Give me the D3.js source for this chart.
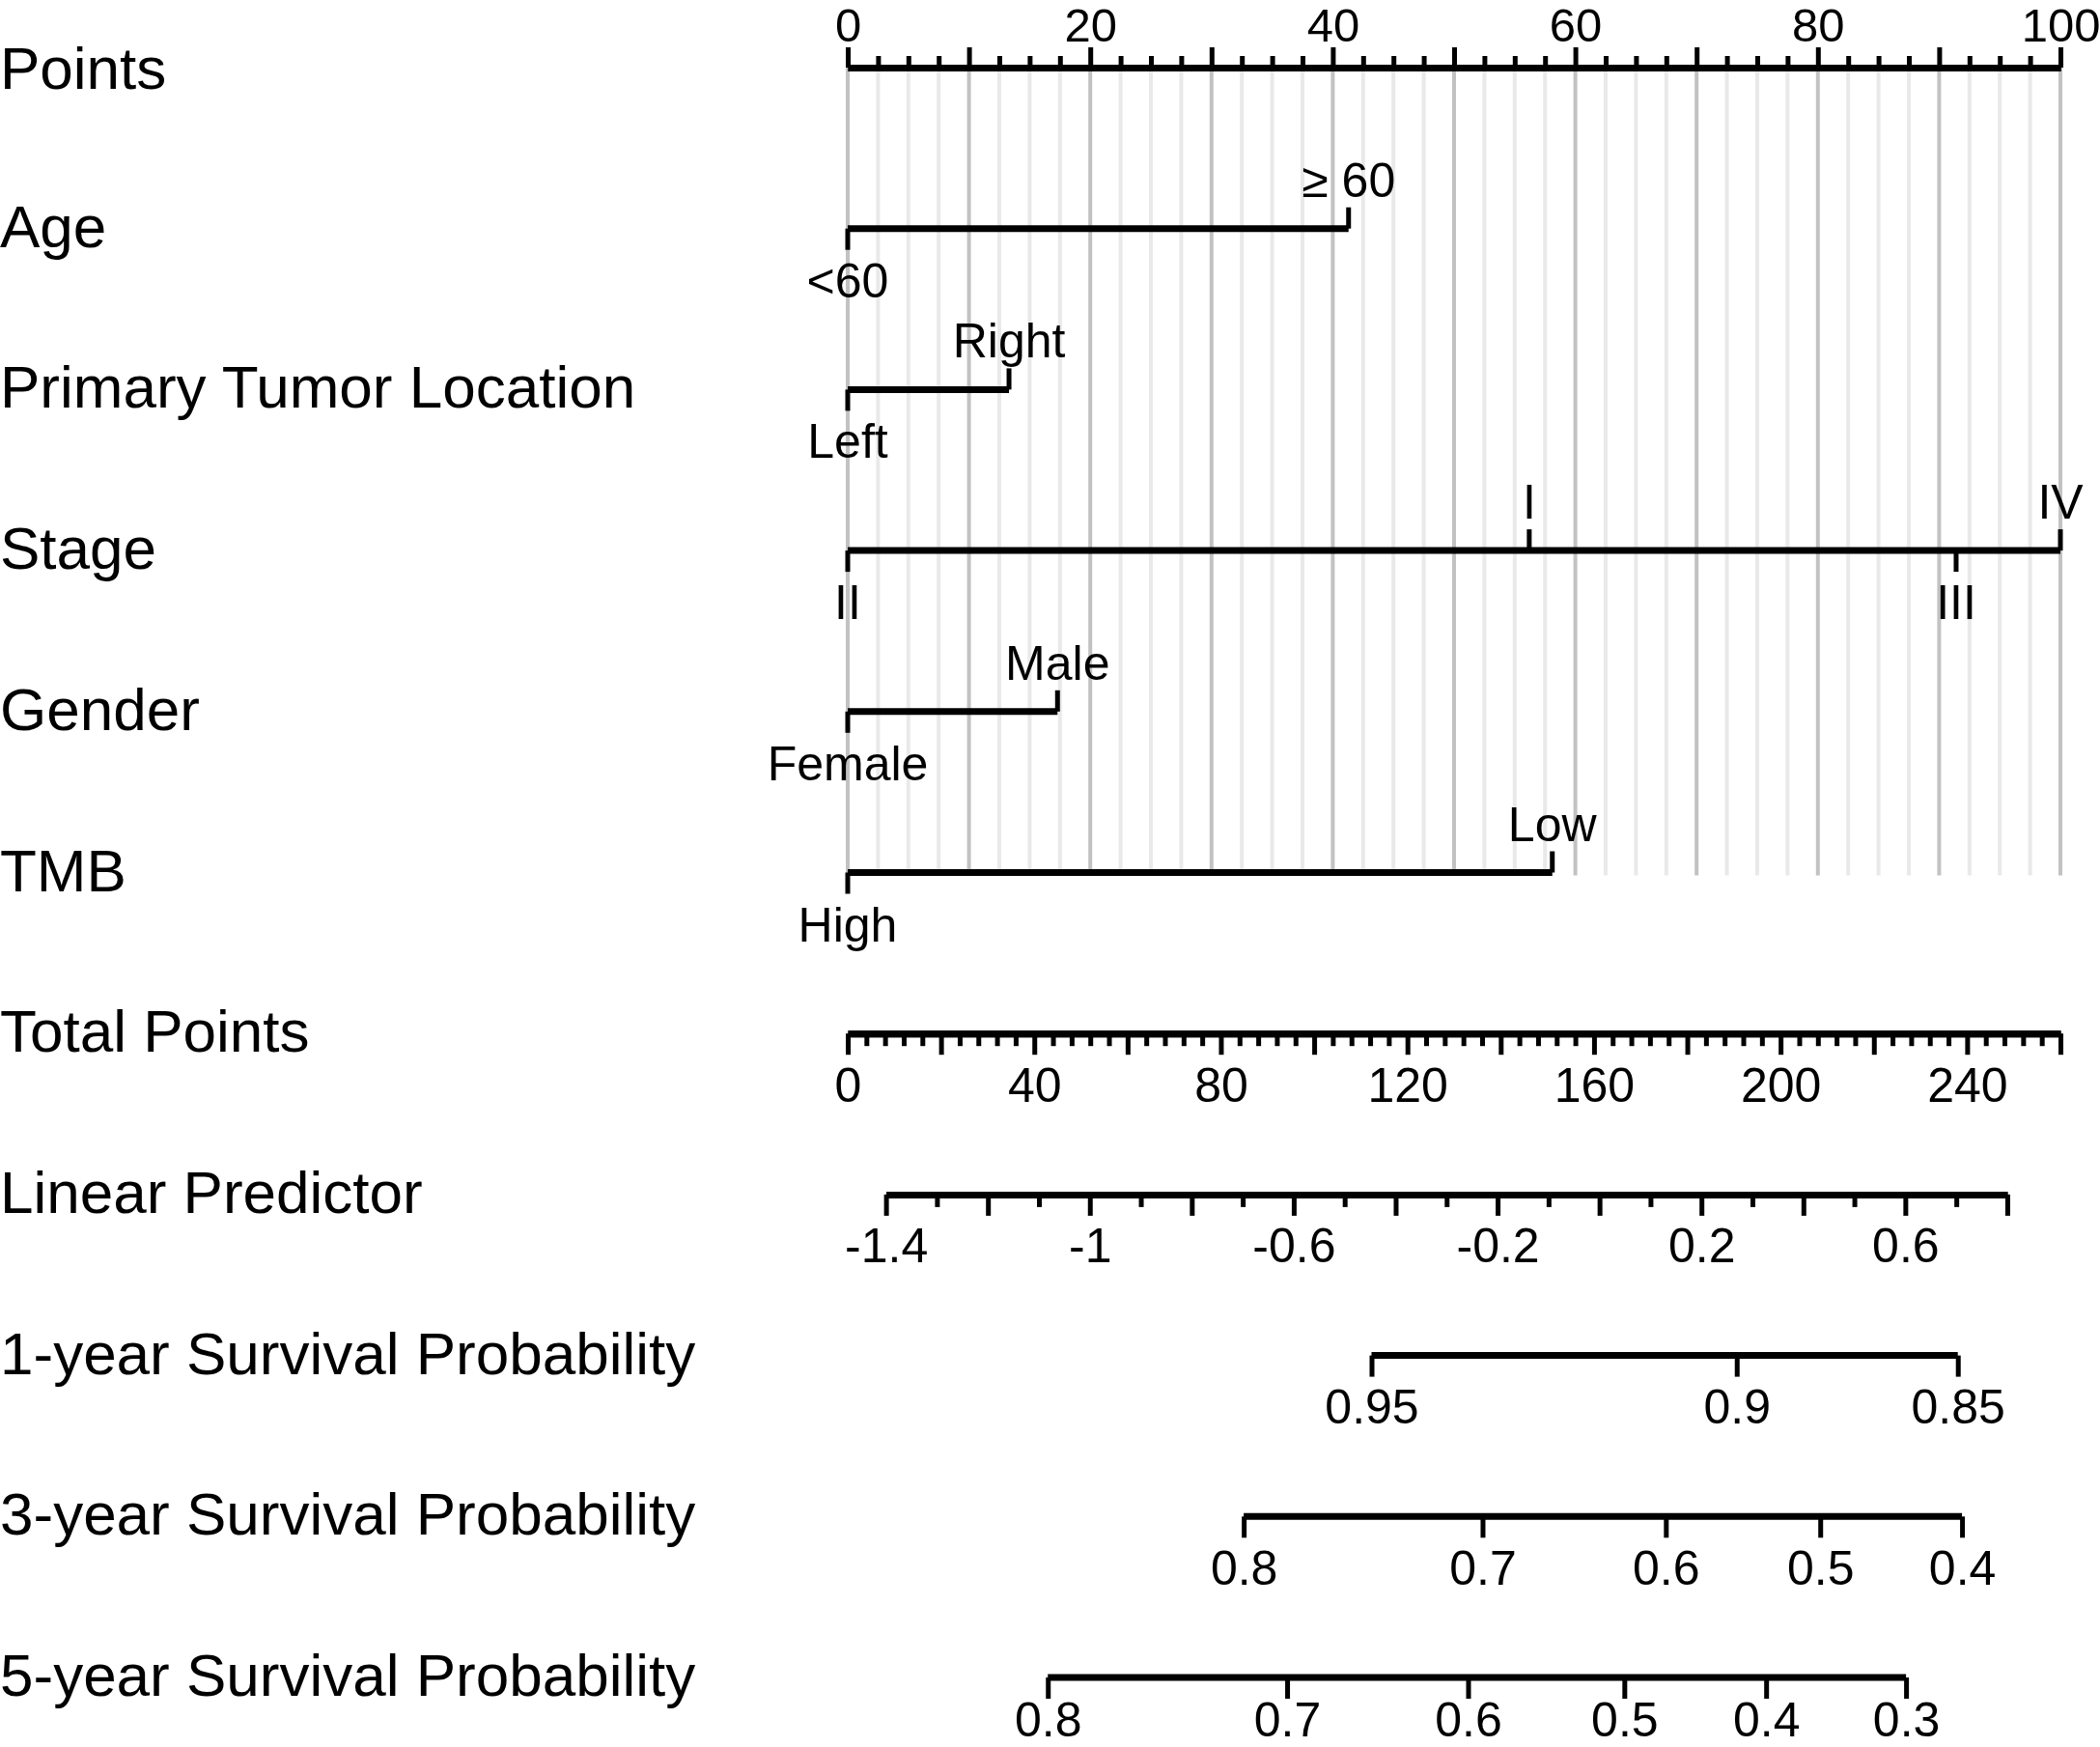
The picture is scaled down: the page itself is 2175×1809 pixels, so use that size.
<!DOCTYPE html>
<html>
<head>
<meta charset="utf-8">
<script src="https://cdn.jsdelivr.net/npm/d3@7"></script>
<style>
  body { margin: 0; background: #fff; }
  text { font-family: "Liberation Sans", Arial, sans-serif; fill: #000; }
</style>
</head>
<body>
<div id="nomogram"></div>
<script>
// row names, top to bottom
const rowNames = ["Points", "Age", "Primary Tumor Location", "Stage", "Gender", "TMB",
  "Total Points", "Linear Predictor", "1-year Survival Probability",
  "3-year Survival Probability", "5-year Survival Probability"];

// categorical predictors: level name, points, label above (true) or below
const ageLevels    = [{name: "<60", pts: 0, up: false}, {name: "\u2265 60", pts: 41.3, up: true}];
const tumorLevels  = [{name: "Left", pts: 0, up: false}, {name: "Right", pts: 13.3, up: true}];
const stageLevels  = [{name: "II", pts: 0, up: false}, {name: "I", pts: 56.2, up: true},
                      {name: "III", pts: 91.4, up: false}, {name: "IV", pts: 100, up: true}];
const genderLevels = [{name: "Female", pts: 0, up: false}, {name: "Male", pts: 17.3, up: true}];
const tmbLevels    = [{name: "High", pts: 0, up: false}, {name: "Low", pts: 58.1, up: true}];

// linear predictor range and the total points it lines up with
const lpDomain = [-1.4, 0.8];
const lpTotalPts = [8.2, 248.6];
const lpLabels = [-1.4, -1, -0.6, -0.2, 0.2, 0.6];

// survival probabilities and the total points where each tick sits
const surv1 = [{p: "0.95", tp: 112.3}, {p: "0.9", tp: 190.6}, {p: "0.85", tp: 238.0}];
const surv3 = [{p: "0.8", tp: 84.9}, {p: "0.7", tp: 136.1}, {p: "0.6", tp: 175.4},
               {p: "0.5", tp: 208.5}, {p: "0.4", tp: 238.9}];
const surv5 = [{p: "0.8", tp: 42.9}, {p: "0.7", tp: 94.2}, {p: "0.6", tp: 133.0},
               {p: "0.5", tp: 166.5}, {p: "0.4", tp: 196.9}, {p: "0.3", tp: 226.9}];

const width = 2175, height = 1809;
const x0 = 878, x1 = 2134;
const rowY = i => 70 + i * 166.7;

const svg = d3.select("#nomogram").append("svg")
    .attr("width", width)
    .attr("height", height);

const xPts = d3.scaleLinear().domain([0, 100]).range([x0, x1]);
const xTot = d3.scaleLinear().domain([0, 260]).range([x0, x1]);
const xLp = d3.scaleLinear().domain(lpDomain).range(lpTotalPts.map(xTot));

// grey reference lines
svg.append("g").selectAll("line")
  .data(d3.range(0, 100.01, 2.5))
  .enter().append("line")
    .attr("x1", d => xPts(d)).attr("x2", d => xPts(d))
    .attr("y1", rowY(0)).attr("y2", rowY(5) + 3)
    .attr("stroke", d => d % 10 === 0 ? "#c2c2c2" : "#e9e9e9")
    .attr("stroke-width", 4);

// left labels
svg.append("g").selectAll("text")
  .data(rowNames)
  .enter().append("text")
    .attr("x", 0)
    .attr("y", (d, i) => rowY(i) + (i === 0 ? 22 : 19))
    .style("font-size", "62px")
    .text(d => d);

function styleAxis(g) {
  g.select(".domain").attr("stroke-width", 7).attr("stroke", "#000");
  g.selectAll(".tick line").attr("stroke-width", 5).attr("stroke", "#000");
  g.selectAll(".tick text").style("font-size", "50px").attr("font-family", null).attr("fill", "#000");
  g.attr("font-family", null).attr("font-size", null);
}

// Points axis (ticks up)
const gPts = svg.append("g").attr("transform", "translate(0," + rowY(0) + ")");
gPts.append("g")
    .call(d3.axisTop(xPts).tickValues(d3.range(0, 100.01, 2.5).filter(v => v % 10 !== 0))
      .tickSize(12).tickSizeOuter(0).tickFormat(""))
    .call(styleAxis);
gPts.append("g")
    .call(d3.axisTop(xPts).tickValues(d3.range(0, 101, 10))
      .tickSize(21).tickSizeOuter(0).tickPadding(6)
      .tickFormat(d => d % 20 === 0 ? d : ""))
    .call(styleAxis)
    .selectAll(".tick text").style("font-size", "49px");

// categorical rows
function catRow(levels, i) {
  const y = rowY(i);
  const g = svg.append("g");
  g.append("line")
    .attr("x1", xPts(d3.min(levels, d => d.pts)))
    .attr("x2", xPts(d3.max(levels, d => d.pts)))
    .attr("y1", y).attr("y2", y)
    .attr("stroke", "#000").attr("stroke-width", 7);
  g.selectAll("line.tk").data(levels).enter().append("line")
    .attr("class", "tk")
    .attr("x1", d => xPts(d.pts)).attr("x2", d => xPts(d.pts))
    .attr("y1", y).attr("y2", d => d.up ? y - 22 : y + 22)
    .attr("stroke", "#000").attr("stroke-width", 5);
  g.selectAll("text").data(levels).enter().append("text")
    .attr("x", d => xPts(d.pts))
    .attr("y", d => d.up ? y - 33 : y + 71)
    .attr("text-anchor", "middle")
    .style("font-size", "50px")
    .text(d => d.name);
}
catRow(ageLevels, 1);
catRow(tumorLevels, 2);
catRow(stageLevels, 3);
catRow(genderLevels, 4);
catRow(tmbLevels, 5);

// Total Points axis (ticks down)
const gTot = svg.append("g").attr("transform", "translate(0," + rowY(6) + ")");
gTot.append("g")
    .call(d3.axisBottom(xTot).tickValues(d3.range(0, 261, 4).filter(v => v % 20 !== 0))
      .tickSize(13).tickSizeOuter(0).tickFormat(""))
    .call(styleAxis);
gTot.append("g")
    .call(d3.axisBottom(xTot).tickValues(d3.range(0, 261, 20))
      .tickSize(22).tickSizeOuter(0).tickPadding(13)
      .tickFormat(d => d % 40 === 0 ? d : ""))
    .call(styleAxis);

// Linear Predictor axis
const fmtLp = v => String(Math.round(v * 10) / 10);
const gLp = svg.append("g").attr("transform", "translate(0," + rowY(7) + ")");
gLp.append("g")
    .call(d3.axisBottom(xLp).tickValues(d3.range(-13, 8, 2).map(v => v / 10))
      .tickSize(13).tickSizeOuter(0).tickFormat(""))
    .call(styleAxis);
gLp.append("g")
    .call(d3.axisBottom(xLp).tickValues(d3.range(-14, 9, 2).map(v => v / 10))
      .tickSize(22).tickSizeOuter(0).tickPadding(13)
      .tickFormat(v => lpLabels.some(l => Math.abs(l - v) < 1e-6) ? fmtLp(v) : ""))
    .call(styleAxis);

// survival probability axes
function survRow(ticks, i, pad) {
  const g = svg.append("g").attr("transform", "translate(0," + rowY(i) + ")");
  g.call(d3.axisBottom(xTot).tickValues(ticks.map(d => d.tp))
      .tickSize(22).tickSizeOuter(0).tickPadding(pad)
      .tickFormat((v, j) => ticks[j].p))
    .call(styleAxis);
  g.select(".domain").remove();
  g.insert("line", ":first-child")
    .attr("x1", xTot(d3.min(ticks, d => d.tp)))
    .attr("x2", xTot(d3.max(ticks, d => d.tp)))
    .attr("stroke", "#000").attr("stroke-width", 7);
}
survRow(surv1, 8, 13);
survRow(surv3, 9, 13);
survRow(surv5, 10, 3);   // last row sits at the bottom edge
</script>
</body>
</html>
